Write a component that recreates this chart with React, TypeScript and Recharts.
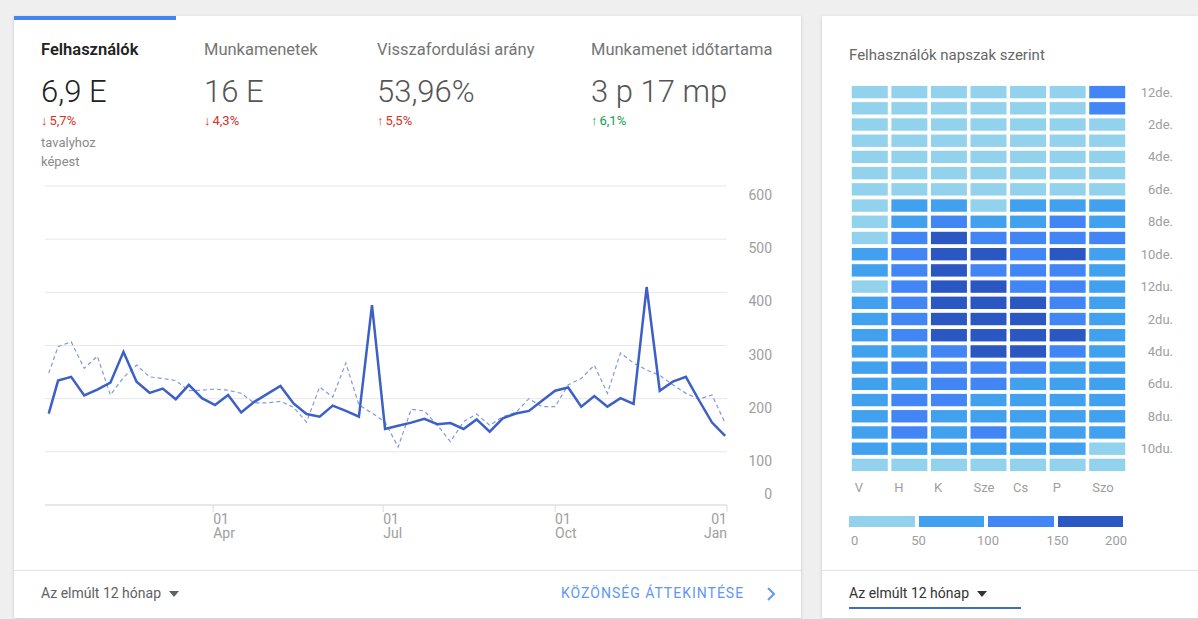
import React from "react";
import {
  LineChart,
  Line,
  XAxis,
  YAxis,
  CartesianGrid,
  ScatterChart,
  Scatter,
} from "recharts";

// day of year for each weekly point
const days = [
  2, 7, 14, 21, 28, 35, 42, 49, 56, 63, 70, 77, 84, 91, 98, 105, 112, 119, 126,
  133, 140, 147, 154, 161, 168, 175, 182, 189, 196, 203, 210, 217, 224, 231,
  238, 245, 252, 259, 266, 273, 280, 287, 294, 301, 308, 315, 322, 329, 336,
  343, 350, 357, 364,
];
const usersThisYear = [
  172, 234, 241, 206, 217, 230, 288, 232, 211, 219, 199, 226, 201, 188, 207,
  174, 194, 209, 224, 191, 171, 166, 187, 177, 166, 376, 143, 149, 155, 162,
  152, 154, 143, 161, 138, 163, 172, 177, 196, 215, 221, 185, 205, 185, 201,
  190, 410, 215, 232, 241, 197, 155, 130,
];
const usersLastYear = [
  248, 298, 307, 257, 280, 207, 240, 263, 241, 238, 234, 215, 216, 218, 216,
  210, 192, 192, 195, 184, 156, 222, 203, 267, 188, 173, 156, 109, 180, 177,
  150, 119, 157, 171, 150, 166, 174, 200, 185, 185, 226, 238, 263, 210, 286,
  267, 254, 244, 226, 210, 199, 207, 154,
];
const monthTicks = [90, 181, 273, 365];
const monthLabels = ["Apr", "Jul", "Oct", "Jan"];
const valueTicks = [0, 100, 200, 300, 400, 500, 600];

// heatmap: users per hour, one array per weekday
const weekdays = ["V", "H", "K", "Sze", "Cs", "P", "Szo"];
const hourTicks = [0, 2, 4, 6, 8, 10, 12, 14, 16, 18, 20, 22];
const hourLabels = ["12de.", "2de.", "4de.", "6de.", "8de.", "10de.", "12du.", "2du.", "4du.", "6du.", "8du.", "10du."];
const sunday = [30, 25, 20, 18, 15, 18, 28, 40, 42, 45, 65, 70, 45, 72, 75, 78, 80, 82, 78, 75, 80, 85, 70, 40];
const monday = [28, 22, 18, 15, 14, 20, 35, 70, 85, 120, 125, 118, 122, 130, 128, 135, 95, 110, 92, 108, 115, 112, 88, 42];
const tuesday = [30, 24, 19, 16, 15, 22, 38, 80, 115, 160, 170, 165, 168, 175, 180, 172, 130, 120, 115, 108, 90, 85, 75, 45];
const wednesday = [32, 25, 20, 17, 16, 21, 36, 48, 90, 118, 158, 130, 162, 170, 176, 168, 160, 115, 105, 95, 88, 102, 78, 44];
const thursday = [30, 24, 19, 16, 15, 20, 37, 75, 92, 125, 128, 120, 132, 165, 172, 170, 162, 110, 95, 92, 85, 80, 72, 40];
const friday = [33, 26, 21, 18, 16, 21, 35, 72, 105, 120, 158, 125, 118, 128, 132, 155, 115, 92, 90, 85, 82, 80, 75, 46];
const saturday = [110, 105, 45, 30, 22, 20, 30, 65, 78, 105, 90, 82, 80, 78, 75, 72, 74, 76, 72, 70, 74, 70, 45, 40];
const legendSteps = [0, 50, 100, 150, 200];

const heatColors = ["#93d2ec", "#42a1ef", "#4285f4", "#2b57c3"];
const font = "Roboto, 'Noto Sans', sans-serif";

const lineData = days.map((d, i) => ({
  day: d,
  current: usersThisYear[i],
  previous: usersLastYear[i],
}));

const heatData = [sunday, monday, tuesday, wednesday, thursday, friday, saturday].flatMap(
  (vals, di) => vals.map((v, h) => ({ day: di, hour: h, value: v }))
);

const colorFor = (v: number) => {
  let idx = 0;
  for (let i = 1; i < legendSteps.length - 1; i++) if (v >= legendSteps[i]) idx = i;
  return heatColors[idx];
};

const ValueTick = (props: any) => {
  const { x, y, payload } = props;
  const dy = payload.value === 0 ? -6 : 14;
  return (
    <text x={x + 37} y={y + dy} textAnchor="end" fill="#9e9e9e" fontSize={14} fontFamily={font}>
      {payload.value}
    </text>
  );
};

const MonthTick = (props: any) => {
  const { x, y, payload, index } = props;
  const last = payload.value === 365;
  const anchor = last ? "end" : "start";
  return (
    <text x={x} y={y} textAnchor={anchor} fill="#9e9e9e" fontSize={14} fontFamily={font}>
      <tspan x={x} dy={10}>01</tspan>
      <tspan x={x} dy={14}>{monthLabels[monthTicks.indexOf(payload.value)] ?? monthLabels[index]}</tspan>
    </text>
  );
};

const DayTick = (props: any) => {
  const { x, y, payload } = props;
  return (
    <text x={x - 15} y={y + 11} textAnchor="start" fill="#9e9e9e" fontSize={13} fontFamily={font}>
      {weekdays[payload.value]}
    </text>
  );
};

const HourTick = (props: any) => {
  const { x, y, payload } = props;
  return (
    <text x={x + 38} y={y + 4.5} textAnchor="end" fill="#9e9e9e" fontSize={13} fontFamily={font}>
      {hourLabels[hourTicks.indexOf(payload.value)]}
    </text>
  );
};

const HeatCell = (props: any) => {
  const { cx, cy, payload } = props;
  return <rect x={cx - 18} y={cy - 6.2} width={36} height={12.4} fill={colorFor(payload.value)} />;
};

const kpis = [
  { label: "Felhasználók", value: "6,9 E", change: "5,7%", up: false, color: "#d93025", left: 27, active: true },
  { label: "Munkamenetek", value: "16 E", change: "4,3%", up: false, color: "#d93025", left: 190, active: false },
  { label: "Visszafordulási arány", value: "53,96%", change: "5,5%", up: true, color: "#d93025", left: 363, active: false },
  { label: "Munkamenet időtartama", value: "3 p 17 mp", change: "6,1%", up: true, color: "#0f9d58", left: 577, active: false },
];

const Caret = ({ color }: { color: string }) => (
  <svg width="10" height="6" style={{ marginLeft: 8, verticalAlign: "middle" }}>
    <polygon points="0,0 10,0 5,6" fill={color} />
  </svg>
);

const App: React.FC = () => {
  return (
    <div
      style={{
        position: "absolute",
        left: 0,
        top: 0,
        width: 1198,
        height: 619,
        background: "#efefef",
        overflow: "hidden",
        fontFamily: font,
      }}
    >
      {/* left card */}
      <div
        style={{
          position: "absolute",
          left: 14,
          top: 16,
          width: 787,
          height: 602,
          background: "#fff",
          boxShadow: "0 1px 3px rgba(0,0,0,0.18)",
        }}
      >
        <div style={{ position: "absolute", left: 0, top: 0, width: 162, height: 4, background: "#4285f4" }} />
        {kpis.map((k) => (
          <div key={k.label} style={{ position: "absolute", left: k.left, top: 24 }}>
            <div
              style={{
                fontSize: 16.5,
                lineHeight: "19px",
                color: k.active ? "#212121" : "#757575",
                fontWeight: k.active ? 600 : 400,
                whiteSpace: "nowrap",
              }}
            >
              {k.label}
            </div>
            <div style={{ fontSize: 31, lineHeight: "38px", fontWeight: 300, color: k.active ? "#212121" : "#555", marginTop: 14, whiteSpace: "nowrap" }}>
              {k.value}
            </div>
            <div style={{ fontSize: 13, lineHeight: "16px", color: k.color, marginTop: 2, whiteSpace: "nowrap" }}>
              <span style={{ fontWeight: 700, marginRight: 2 }}>{k.up ? "↑" : "↓"}</span>
              {k.change}
            </div>
            {k.active && (
              <div style={{ fontSize: 13, lineHeight: "19px", color: "#8a8a8a", marginTop: 4 }}>
                tavalyhoz
                <br />
                képest
              </div>
            )}
          </div>
        ))}

        <div style={{ position: "absolute", left: 16, top: 160 }}>
          <LineChart width={750} height={369} data={lineData} margin={{ top: 10, right: 0, left: 15, bottom: 0 }}>
            <CartesianGrid vertical={false} stroke="#e8e8e8" />
            <XAxis
              dataKey="day"
              type="number"
              domain={[0, 365]}
              ticks={monthTicks}
              stroke="#dcdcdc"
              tickSize={7}
              height={40}
              tick={<MonthTick />}
            />
            <YAxis
              orientation="right"
              domain={[0, 600]}
              ticks={valueTicks}
              axisLine={false}
              tickLine={false}
              width={53}
              tick={<ValueTick />}
            />
            <Line
              type="linear"
              dataKey="previous"
              stroke="#7f9ade"
              strokeWidth={1.2}
              strokeDasharray="4 3"
              dot={false}
              isAnimationActive={false}
            />
            <Line
              type="linear"
              dataKey="current"
              stroke="#3d60c6"
              strokeWidth={2.5}
              dot={false}
              isAnimationActive={false}
            />
          </LineChart>
        </div>

        <div style={{ position: "absolute", left: 0, top: 554, width: "100%", height: 1, background: "#e3e3e3" }} />
        <div style={{ position: "absolute", left: 27, top: 569, fontSize: 14, lineHeight: "17px", color: "#616161" }}>
          Az elmúlt 12 hónap
          <Caret color="#616161" />
        </div>
        <div
          style={{
            position: "absolute",
            left: 547,
            top: 569,
            fontSize: 14,
            lineHeight: "17px",
            color: "#5e97f6",
            letterSpacing: 1,
          }}
        >
          KÖZÖNSÉG ÁTTEKINTÉSE
        </div>
        <svg style={{ position: "absolute", left: 751, top: 571 }} width="12" height="14">
          <polyline points="3,1 9,7 3,13" fill="none" stroke="#5e97f6" strokeWidth={2} />
        </svg>
      </div>

      {/* right card */}
      <div
        style={{
          position: "absolute",
          left: 822,
          top: 16,
          width: 400,
          height: 602,
          background: "#fff",
          boxShadow: "0 1px 3px rgba(0,0,0,0.18)",
        }}
      >
        <div style={{ position: "absolute", left: 27, top: 30, fontSize: 15, lineHeight: "18px", color: "#666" }}>
          Felhasználók napszak szerint
        </div>

        <div style={{ position: "absolute", left: 18, top: 64 }}>
          <ScatterChart width={347} height={423} margin={{ top: 4, right: 0, left: 10, bottom: 0 }}>
            <XAxis
              dataKey="day"
              type="number"
              domain={[-0.5, 6.5]}
              ticks={[0, 1, 2, 3, 4, 5, 6]}
              axisLine={false}
              tickLine={false}
              height={30}
              tick={<DayTick />}
            />
            <YAxis
              dataKey="hour"
              type="number"
              orientation="right"
              domain={[-0.5, 23.5]}
              reversed
              ticks={hourTicks}
              axisLine={false}
              tickLine={false}
              width={60}
              tick={<HourTick />}
            />
            <Scatter data={heatData} shape={<HeatCell />} isAnimationActive={false} />
          </ScatterChart>
        </div>

        {legendSteps.slice(0, -1).map((s, i) => (
          <div
            key={s}
            style={{
              position: "absolute",
              left: 27 + i * 69.5,
              top: 500,
              width: 65.5,
              height: 11,
              background: heatColors[i],
            }}
          />
        ))}
        {legendSteps.map((s, i) => {
          const x = 27 + i * 69.5;
          const first = i === 0;
          const last = i === legendSteps.length - 1;
          return (
            <div
              key={"l" + s}
              style={{
                position: "absolute",
                left: first ? x + 2 : last ? x - 60 : x - 30,
                width: first ? undefined : 60,
                textAlign: first ? "left" : last ? "right" : "center",
                top: 517,
                fontSize: 13,
                lineHeight: "16px",
                color: "#9e9e9e",
              }}
            >
              {s}
            </div>
          );
        })}

        <div style={{ position: "absolute", left: 0, top: 554, width: "100%", height: 1, background: "#e3e3e3" }} />
        <div style={{ position: "absolute", left: 27, top: 569, fontSize: 14, lineHeight: "17px", color: "#333" }}>
          Az elmúlt 12 hónap
          <Caret color="#333" />
        </div>
        <div style={{ position: "absolute", left: 27, top: 591, width: 172, height: 2, background: "#3f6fb5" }} />
      </div>
    </div>
  );
};

export default App;
